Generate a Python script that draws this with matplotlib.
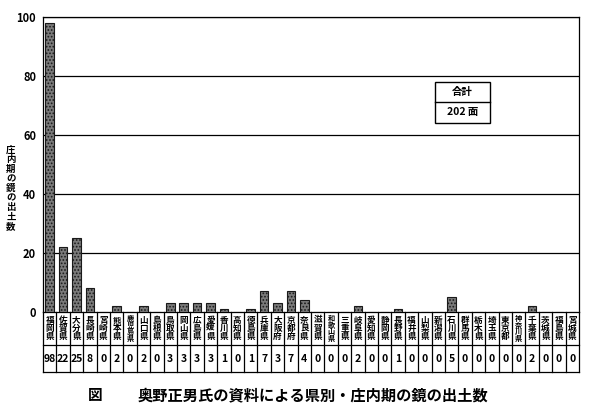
import matplotlib
matplotlib.use("Agg")
import matplotlib.pyplot as plt
from matplotlib.patches import Rectangle
import matplotlib.transforms as mtransforms

plt.rcParams['font.family'] = ['Noto Sans CJK JP', 'DejaVu Sans']
plt.rcParams['hatch.color'] = '#1a1a1a'
plt.rcParams['hatch.linewidth'] = 0.8

prefectures = ['福岡県', '佐賀県', '大分県', '長崎県', '宮崎県', '熊本県', '鹿児島県', '山口県',
               '島根県', '鳥取県', '岡山県', '広島県', '愛媛県', '香川県', '高知県', '徳島県',
               '兵庫県', '大阪府', '京都府', '奈良県', '滋賀県', '和歌山県', '三重県', '岐阜県',
               '愛知県', '静岡県', '長野県', '福井県', '山梨県', '新潟県', '石川県', '群馬県',
               '栃木県', '埼玉県', '東京都', '神奈川県', '千葉県', '茨城県', '福島県', '宮城県']
counts = [98, 22, 25, 8, 0, 2, 0, 2, 0, 3, 3, 3, 3, 1, 0, 1, 7, 3, 7, 4, 0, 0, 0, 2,
          0, 0, 1, 0, 0, 0, 5, 0, 0, 0, 0, 0, 2, 0, 0, 0]
yticks = [0, 20, 40, 60, 80, 100]
ylabel = '庄内期の鏡の出土数'
total_label = '合計'
total_value = '202 面'
title_prefix = '図'
title = '奥野正男氏の資料による県別・庄内期の鏡の出土数'

fig = plt.figure(figsize=(6, 4.12), dpi=100)
ax = fig.add_axes([43/600, (412-312)/412, (579-43)/600, (312-17)/412])

n = len(prefectures)
x = list(range(n))
ax.bar(x, counts, width=0.65, facecolor='#7a7a7a', edgecolor='#1a1a1a',
       linewidth=0.8, hatch='.....', zorder=3)

ax.set_xlim(-0.5, n - 0.5)
ax.set_ylim(0, 100)
ax.set_yticks(yticks)
ax.set_yticklabels([str(v) for v in yticks], fontsize=8, fontweight='bold')
ax.tick_params(axis='y', length=0, pad=5)
ax.set_xticks([])
for v in yticks[1:]:
    ax.axhline(v, color='black', lw=0.9, zorder=1)
for side in ['left', 'right', 'top', 'bottom']:
    ax.spines[side].set_linewidth(0.9)
    ax.spines[side].set_color('black')

# table below axis
trans = mtransforms.blended_transform_factory(ax.transData, ax.transAxes)
h_px = 295.0
r1 = -33 / h_px
r2 = -60 / h_px
for y in [r1, r2]:
    ax.plot([-0.5, n - 0.5], [y, y], transform=trans, color='black', lw=0.9, clip_on=False)
for i in range(n + 1):
    ax.plot([i - 0.5, i - 0.5], [0, r2], transform=trans, color='black', lw=0.9, clip_on=False)
for i, (p, c) in enumerate(zip(prefectures, counts)):
    fs = 5.2 if len(p) > 3 else 6.2
    ax.text(i, r1 / 2, '\n'.join(p), transform=trans, ha='center', va='center',
            fontsize=fs, fontweight='bold', linespacing=0.9, clip_on=False)
    ax.text(i, (r1 + r2) / 2, str(c), transform=trans, ha='center', va='center',
            fontsize=7.5, fontweight='bold', clip_on=False)

# y label (vertical stacked)
fig.text(11/600, 1 - 188/412, '\n'.join(ylabel), ha='center', va='center',
         fontsize=6.8, fontweight='bold', linespacing=0.95)

# total box
bx0, bx1, by0, by1, bmid = 435, 490, 82, 123, 102
W, H = 600, 412
fig.patches.append(Rectangle((bx0/W, 1 - by1/H), (bx1-bx0)/W, (by1-by0)/H,
                             transform=fig.transFigure, facecolor='white',
                             edgecolor='black', lw=1.0, zorder=5))
fig.lines.append(plt.Line2D([bx0/W, bx1/W], [1 - bmid/H, 1 - bmid/H],
                            transform=fig.transFigure, color='black', lw=1.0, zorder=6))
fig.text((bx0+bx1)/2/W, 1 - (by0+bmid)/2/H, total_label, ha='center', va='center',
         fontsize=7.5, fontweight='bold', zorder=7)
fig.text((bx0+bx1)/2/W, 1 - (bmid+by1)/2/H, total_value, ha='center', va='center',
         fontsize=7.5, fontweight='bold', zorder=7)

# caption
fig.text(95/600, 1 - 395/412, title_prefix, ha='center', va='center', fontsize=10.5,
         fontweight='bold')
fig.text(138/600, 1 - 395/412, title, ha='left', va='center', fontsize=11,
         fontweight='bold')

fig.savefig('out.png', dpi=100, facecolor='white')
